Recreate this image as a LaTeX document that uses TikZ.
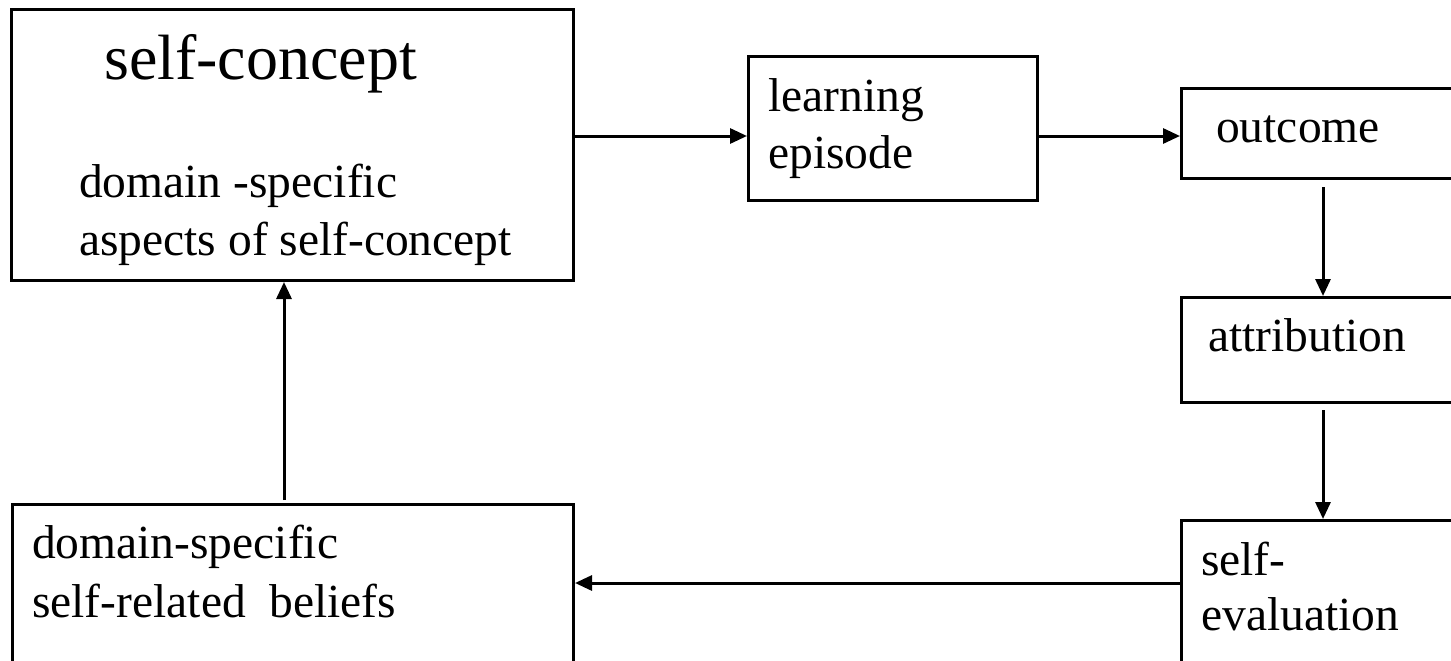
\documentclass[tikz,border=0pt]{standalone}
\usepackage{fontspec}
\setmainfont{Liberation Serif}
\usetikzlibrary{arrows.meta,calc}
\begin{document}
\begin{tikzpicture}[x=1pt,y=-1pt,
  box/.style={draw, line width=3pt, inner sep=0pt, anchor=north west},
  txt/.style={inner sep=0pt, anchor=base west, font=\fontsize{47.5}{57}\selectfont},
  big/.style={inner sep=0pt, anchor=base west, font=\fontsize{64}{77}\selectfont},
  conn/.style={line width=3pt, -{Triangle[length=17pt,width=15pt]}}]
\useasboundingbox (0,0) rectangle (1451,661);
\clip (0,0) rectangle (1451,661);

% boxes
\node[box, minimum width=562pt, minimum height=271pt] (sc) at (10,8) {};
\node[box, minimum width=289pt, minimum height=144pt] (le) at (747,55) {};
\node[box, minimum width=330pt, minimum height=90pt]  (oc) at (1180,87) {};
\node[box, minimum width=330pt, minimum height=105pt] (at) at (1180,296) {};
\node[box, minimum width=330pt, minimum height=200pt] (se) at (1180,519) {};
\node[box, minimum width=561pt, minimum height=200pt] (db) at (11,503) {};

% texts
\node[big] (t1) at (104,79) {self-concept};
\node[txt] (t2) at (79,197) {domain -specific};
\node[txt] (t3) at (79,255) {aspects of self-concept};
\node[txt] (t4) at (768,111) {learning};
\node[txt] (t5) at (768,168) {episode};
\node[txt] (t6) at (1216,142) {outcome};
\node[txt] (t7) at (1208,351) {attribution};
\node[txt] (t8) at (1201,575) {self-};
\node[txt] (t9) at (1201,630) {evaluation};
\node[txt] (t10) at (32,558) {domain-specific};
\node[txt] (t11) at (32,617) {self-related\ \ beliefs};

% guide coordinates for connector lines
\coordinate (row) at (0,136);
\coordinate (row2) at (0,583);
\coordinate (col) at (1323,0);
\coordinate (col2) at (284,0);

% connectors
\draw[conn] (sc.east |- row) -- (le.west |- row);
\draw[conn] (le.east |- row) -- (oc.west |- row);
\draw[conn] ($(oc.south -| col)+(0,7)$) -- (at.north -| col);
\draw[conn] ($(at.south -| col)+(0,6)$) -- (se.north -| col);
\draw[conn] (se.west |- row2) -- (db.east |- row2);
\draw[conn] ($(db.north -| col2)+(0,-3)$) -- (sc.south -| col2);
\end{tikzpicture}
\end{document}
